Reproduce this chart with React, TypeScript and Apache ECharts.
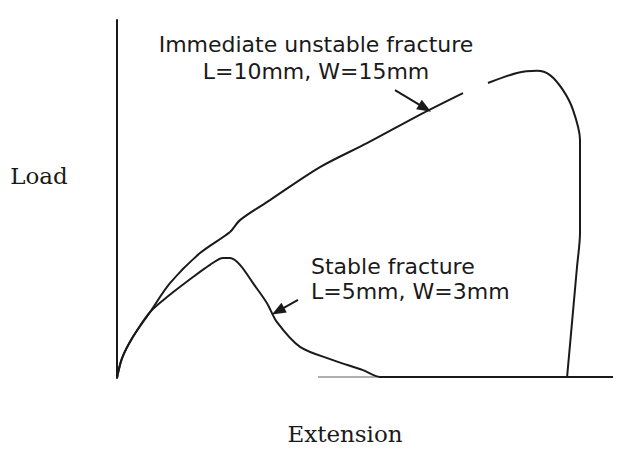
import React, { useEffect, useRef } from "react";
import * as echarts from "echarts";

// Extension (arbitrary units 0-100) and Load (arbitrary units 0-100)
const unstableX = [0, 1.0, 3.2, 6.6, 10.6, 16.6, 22.6, 24.6, 30.6, 40.6, 50, 61.2, 69.2, null, 74.2, 80, 84, 86.6, 89.2, 91.2, 92.6, 92.6, 92, 90];
const unstableY = [0, 5.5, 11.5, 18.4, 26.5, 34.9, 40.8, 44.1, 49.7, 58.9, 65.6, 74.0, 79.6, null, 82.4, 85.2, 85.8, 84.6, 80.4, 74.9, 66.5, 40.5, 31.0, 0];

const stableX = [0, 1.0, 3.2, 6.6, 10, 15.2, 18.6, 21.2, 22.6, 24.6, 27.2, 30, 32, 36.6, 43.2, 49.2, 52.6, 99.2];
const stableY = [0, 5.5, 11.5, 18.4, 22.6, 28.2, 31.6, 33.5, 33.5, 31.6, 26.5, 20.9, 15.6, 8.7, 5.0, 2.2, 0.3, 0.3];

const baseX = [40.2, 52.6];
const baseY = [0.3, 0.3];

const arrow1 = [[55.6, 80.4], [61.6, 75.4]];
const arrow2 = [[36.2, 21.8], [32.2, 18.7]];

const unstableLabel = ["Immediate unstable fracture", "L=10mm, W=15mm"];
const stableLabel = ["Stable fracture", "L=5mm, W=3mm"];
const xTitle = "Extension";
const yTitle = "Load";

const pair = (xs: (number | null)[], ys: (number | null)[]) =>
  xs.map((x, i) => (x === null || ys[i] === null ? [null, null] : [x, ys[i]]));

export default function App() {
  const ref = useRef<HTMLDivElement>(null);
  useEffect(() => {
    if (!ref.current) return;
    const chart = echarts.init(ref.current, undefined, { renderer: "svg" });
    const lineStyle = { color: "#1a1a1a", width: 2 };
    const arrowLine = (pts: number[][]) => [
      { coord: pts[0], symbol: "none" },
      { coord: pts[1], symbol: "triangle", symbolSize: [11, 14] },
    ];
    chart.setOption({
      animation: false,
      grid: { left: 117, right: 6, top: 20, bottom: 75 },
      xAxis: {
        type: "value",
        min: 0,
        max: 100,
        show: false,
      },
      yAxis: {
        type: "value",
        min: 0,
        max: 100,
        axisLine: { show: true, onZero: false, lineStyle: { color: "#1a1a1a", width: 2 } },
        axisTick: { show: false },
        axisLabel: { show: false },
        splitLine: { show: false },
      },
      series: [
        {
          type: "line",
          data: pair(baseX, baseY),
          showSymbol: false,
          silent: true,
          lineStyle: { color: "#b0b0b0", width: 2 },
        },
        {
          type: "line",
          data: pair(unstableX, unstableY),
          showSymbol: false,
          connectNulls: false,
          smooth: 0.3,
          silent: true,
          lineStyle,
          markLine: {
            silent: true,
            label: { show: false },
            lineStyle: { color: "#1a1a1a", width: 2, type: "solid" },
            itemStyle: { color: "#1a1a1a" },
            data: [arrowLine(arrow1), arrowLine(arrow2)],
          },
        },
        {
          type: "line",
          data: pair(stableX, stableY),
          showSymbol: false,
          smooth: 0.3,
          silent: true,
          lineStyle,
        },
      ],
      graphic: [
        {
          type: "text",
          x: 316,
          y: 58,
          style: {
            text: unstableLabel.join("\n"),
            font: "22px 'DejaVu Sans'",
            lineHeight: 27,
            fill: "#1a1a1a",
            align: "center",
            verticalAlign: "middle",
          },
        },
        {
          type: "text",
          x: 311,
          y: 279,
          style: {
            text: stableLabel.join("\n"),
            font: "22px 'DejaVu Sans'",
            lineHeight: 25,
            fill: "#1a1a1a",
            align: "left",
            verticalAlign: "middle",
          },
        },
        {
          type: "text",
          x: 39,
          y: 176,
          style: {
            text: yTitle,
            font: "23px 'DejaVu Serif'",
            fill: "#1a1a1a",
            align: "center",
            verticalAlign: "middle",
          },
        },
        {
          type: "text",
          x: 345,
          y: 434,
          style: {
            text: xTitle,
            font: "23px 'DejaVu Serif'",
            fill: "#1a1a1a",
            align: "center",
            verticalAlign: "middle",
          },
        },
      ],
    });
    return () => chart.dispose();
  }, []);
  return <div ref={ref} style={{ width: 623, height: 453, position: "fixed", left: 0, top: 0, background: "#fff" }} />;
}
